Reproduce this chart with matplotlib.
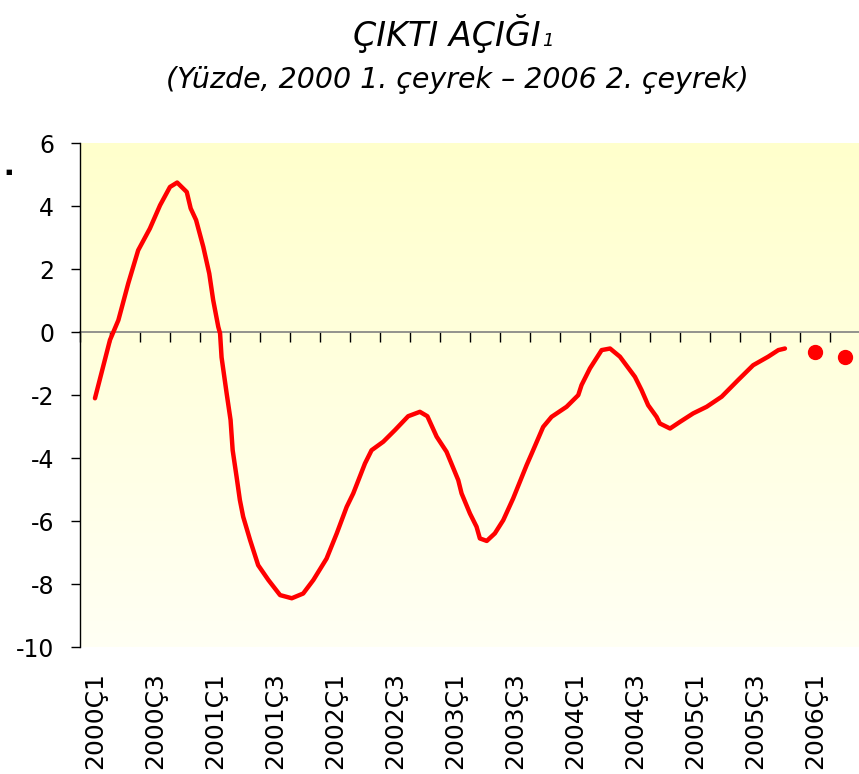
import numpy as np
import matplotlib
matplotlib.use("Agg")
import matplotlib.pyplot as plt
from matplotlib.colors import LinearSegmentedColormap

plt.rcParams['font.family'] = ['DejaVu Sans']
plt.rcParams['axes.unicode_minus'] = False

# ceyrek etiketleri (her 2 ceyrekte bir yaziliyor)
quarters = [f"{y}Ç{q}" for y in range(2000, 2007) for q in range(1, 5)][:26]

# cikti acigi egrisi: konum ceyrek cinsinden (0 = 2000Ç1), deger yuzde
gap_pos = [0.0, 0.5, 0.78, 1.11, 1.44, 1.83, 2.17, 2.5, 2.74, 3.06, 3.19, 3.37,
           3.61, 3.81, 3.94, 4.11, 4.17, 4.22, 4.39, 4.52, 4.59, 4.72, 4.83, 4.94,
           5.17, 5.44, 5.78, 6.17, 6.56, 6.94, 7.28, 7.72, 8.06, 8.39, 8.61, 9.0,
           9.22, 9.61, 10.0, 10.44, 10.83, 11.08, 11.39, 11.72, 12.11, 12.22, 12.5,
           12.72, 12.83, 13.06, 13.33, 13.61, 13.94, 14.39, 14.56, 14.94, 15.22,
           15.72, 16.11, 16.22, 16.5, 16.89, 17.17, 17.5, 18.0, 18.22, 18.44, 18.72,
           18.83, 19.17, 19.5, 19.94, 20.39, 20.89, 21.44, 21.94, 22.44, 22.78, 23.0]
gap_val = [-2.1, -0.25, 0.38, 1.55, 2.6, 3.29, 4.03, 4.61, 4.75, 4.45, 3.93, 3.56,
           2.71, 1.86, 1.02, 0.17, -0.04, -0.8, -1.95, -2.79, -3.75, -4.59, -5.33, -5.86,
           -6.6, -7.4, -7.87, -8.35, -8.45, -8.3, -7.87, -7.19, -6.39, -5.55, -5.12, -4.17,
           -3.75, -3.48, -3.11, -2.67, -2.53, -2.67, -3.32, -3.8, -4.7, -5.12, -5.76,
           -6.18, -6.55, -6.63, -6.39, -5.97, -5.28, -4.22, -3.85, -3.01, -2.69,
           -2.37, -2.0, -1.68, -1.15, -0.57, -0.52, -0.78, -1.42, -1.84, -2.32, -2.69,
           -2.9, -3.06, -2.85, -2.58, -2.37, -2.05, -1.52, -1.05, -0.78, -0.57, -0.52]

# 2006 tahminleri (nokta)
fc_pos = [24, 25]
fc_val = [-0.63, -0.78]

yticks = [6, 4, 2, 0, -2, -4, -6, -8, -10]

fig = plt.figure(figsize=(8.59, 7.74), dpi=100)
ax = fig.add_axes([0.0931, 0.164, 0.908, 0.651])

ymin, ymax = -10, 6
ax.set_xlim(-0.5, 25.5)
ax.set_ylim(ymin, ymax)

# sari gradyan arka plan
grad = np.linspace(0, 1, 256).reshape(-1, 1)
cmap = LinearSegmentedColormap.from_list("bg", ["#fffff4", "#ffffcc"])
ax.imshow(grad, extent=[0, 1, 0, 1], transform=ax.transAxes, aspect='auto',
          cmap=cmap, origin='lower', zorder=0)

ax.plot(gap_pos, gap_val, color='#ff0000', lw=3.2, solid_joinstyle='round',
        solid_capstyle='round', zorder=3)
ax.plot(fc_pos, fc_val, 'o', color='#ff0000', ms=10, zorder=3)

for s in ['top', 'right', 'bottom']:
    ax.spines[s].set_visible(False)
ax.spines['left'].set_color('black')
ax.spines['left'].set_linewidth(1)

ax.set_yticks(yticks)
ax.set_yticklabels([str(v) for v in yticks])
ax.tick_params(axis='y', direction='out', length=6.5, width=1, pad=12, labelsize=17)

ax.set_xticks(range(0, 26, 2))
ax.set_xticklabels(quarters[::2], rotation=90, va='top', ha='center')
ax.tick_params(axis='x', length=0, pad=18, labelsize=18)

# sifir cizgisinde ceyrek isaretleri
secax = ax.secondary_xaxis((0 - ymin) / (ymax - ymin))
secax.set_alignment('bottom')
secax.set_xticks(np.arange(-0.5, 26, 1))
secax.set_xticklabels([])
secax.spines['bottom'].set_color('#808080')
secax.spines['bottom'].set_linewidth(1.2)
secax.tick_params(axis='x', direction='out', length=7, width=1, colors='black')

t = fig.text(0.52, 0.94, "ÇIKTI AÇIĞI", ha='center', va='baseline',
             fontsize=24, style='italic')
ax.annotate("1", xy=(1, 0.08), xycoords=t, xytext=(1, 0),
            textcoords='offset points', fontsize=13, style='italic',
            ha='left', va='bottom', annotation_clip=False)
fig.text(0.532, 0.886, "(Yüzde, 2000 1. çeyrek – 2006 2. çeyrek)", ha='center',
         va='baseline', fontsize=20.5, style='italic')

fig.text(0.006, 1 - 172 / 774, "■", fontsize=5, ha='left', va='center')

fig.savefig("out.png", dpi=100)
